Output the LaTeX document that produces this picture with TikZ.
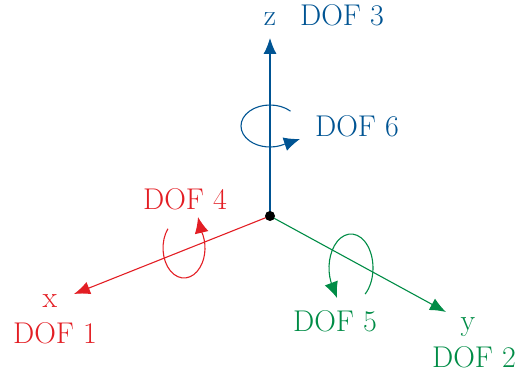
\documentclass[tikz,border=0pt]{standalone}
\usepackage{fontspec}
\usetikzlibrary{arrows.meta}
\definecolor{cred}{RGB}{227,30,36}
\definecolor{cblue}{RGB}{0,84,147}
\definecolor{cgreen}{RGB}{0,140,70}
\tikzset{
  axis/.style={line width=1.1pt,-{Latex[length=16pt,width=13pt]}},
  rot/.style={line width=1.1pt},
  rottip/.style={line width=1.1pt,-{Latex[length=16pt,width=14pt]}},
  lbl/.style={anchor=base,inner sep=0pt,font=\fontsize{30}{36}\selectfont}
}
\begin{document}
\begin{tikzpicture}[x=1pt,y=-1pt]
\useasboundingbox (0,0) rectangle (519,377);
\coordinate (O) at (270,216);
\coordinate (zt) at (270,38);
\coordinate (xt) at (74,294);
\coordinate (yt) at (446,312);
% axes
\draw[axis,cblue] (O) -- (zt);
\draw[axis,cred] (O) -- (xt);
\draw[axis,cgreen] (O) -- (yt);
% DOF 6 rotation
\draw[rot,cblue] (270,126) ++(315:29 and 21) arc[start angle=315,end angle=60,x radius=29,y radius=21] coordinate (r6e);
\coordinate (r6t) at (300,139);
\draw[rottip,cblue] (r6e) -- (r6t);
% DOF 4 rotation
\draw[rot,cred] (184,248) ++(220:21 and 30) arc[start angle=220,end angle=-35,x radius=21,y radius=30] coordinate (r4e);
\coordinate (r4t) at (198,217);
\draw[rottip,cred] (r4e) -- (r4t);
% DOF 5 rotation
\draw[rot,cgreen] (351,268) ++(50:22 and 34) arc[start angle=50,end angle=-205,x radius=22,y radius=34] coordinate (r5e);
\coordinate (r5t) at (337,298);
\draw[rottip,cgreen] (r5e) -- (r5t);
% origin dot
\fill (O) circle[radius=5];
% labels
\node[lbl,cblue] (lz) at (270,26) {z};
\node[lbl,cblue] (l3) at (342,26) {DOF 3};
\node[lbl,cblue] (l6) at (357,136) {DOF 6};
\node[lbl,cred] (l4) at (185,209) {DOF 4};
\node[lbl,cred] (lx) at (50,307) {x};
\node[lbl,cred] (l1) at (55,343) {DOF 1};
\node[lbl,cgreen] (l5) at (335,331) {DOF 5};
\node[lbl,cgreen] (ly) at (468,330) {y};
\node[lbl,cgreen] (l2) at (474,367) {DOF 2};
\end{tikzpicture}
\end{document}
